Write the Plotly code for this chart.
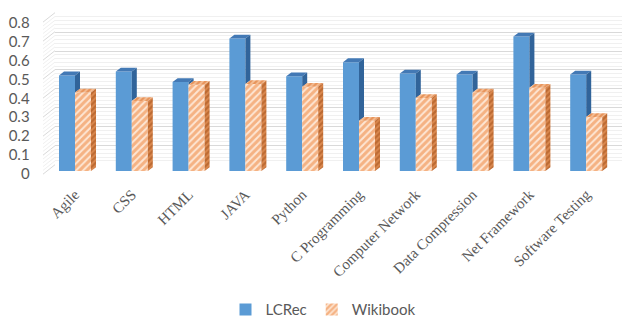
import plotly.graph_objects as go

# ---- data ----
categories = ["Agile", "CSS", "HTML", "JAVA", "Python", "C Programming",
              "Computer Network", "Data Compression", "Net Framework", "Software Testing"]
lcrec = [0.505, 0.525, 0.47, 0.70, 0.50, 0.575, 0.515, 0.51, 0.71, 0.51]
wikibook = [0.415, 0.37, 0.455, 0.46, 0.445, 0.265, 0.385, 0.415, 0.44, 0.285]
y_ticks = [0, 0.1, 0.2, 0.3, 0.4, 0.5, 0.6, 0.7, 0.8]

# ---- canvas geometry (pixels) ----
W, H = 622, 334
def px(x):
    return x / W
def py(y):
    return 1 - y / H

GREY = "#595959"
BLUE, BLUE_TOP, BLUE_SIDE = "#5b9bd5", "#4379b5", "#31649a"
ORANGE = "#ed7d31"

# plane of the bar fronts
bar_x_dom = (46.6, 614.6)
bar_y_dom = (13.3, 173.3)          # 0.8 at top, 0 at bottom
x_range = (-0.5, 9.5)
y_range = (0, 0.8)
px_per_cat = (bar_x_dom[1] - bar_x_dom[0]) / (x_range[1] - x_range[0])
px_per_unit = (bar_y_dom[1] - bar_y_dom[0]) / (y_range[1] - y_range[0])

bw = 16 / px_per_cat               # bar width in category units
ddx = 5 / px_per_cat               # bar depth offset (x)
ddy = 4 / px_per_unit              # bar depth offset (y)

idx = list(range(len(categories)))

fig = go.Figure()

# back wall gridlines sit on the base axis pair (x, y); bars are on (x2, y2)
fig.add_trace(go.Scatter(x=[0], y=[0], mode="markers", marker=dict(opacity=0),
                         hoverinfo="skip", showlegend=False))

# front faces
fig.add_trace(go.Bar(
    x=idx, y=lcrec, width=bw, offset=-bw, name="LCRec",
    xaxis="x2", yaxis="y2",
    marker=dict(color=BLUE, line=dict(width=0)),
))
fig.add_trace(go.Bar(
    x=idx, y=wikibook, width=bw, offset=0, name="Wikibook",
    xaxis="x2", yaxis="y2",
    marker=dict(color="#fde6d4", line=dict(width=0),
                pattern=dict(shape="/", fgcolor=ORANGE, bgcolor="#fde6d4",
                             size=5, solidity=0.6)),
))


def top_faces(vals, off):
    xs, ys = [], []
    for i, v in zip(idx, vals):
        x0 = i + off
        x1 = x0 + bw
        xs += [x0, x0 + ddx, x1 + ddx, x1, x0, None]
        ys += [v, v + ddy, v + ddy, v, v, None]
    return xs, ys


def side_faces(vals, off, lower=None):
    xs, ys = [], []
    for k, (i, v) in enumerate(zip(idx, vals)):
        x1 = i + off + bw
        b = 0 if lower is None else min(lower[k], v)
        xs += [x1, x1 + ddx, x1 + ddx, x1, x1, None]
        ys += [b, b + ddy, v + ddy, v, b, None]
    return xs, ys


def face(xs, ys, color=None, pattern=None):
    kw = dict(x=xs, y=ys, mode="lines", fill="toself", xaxis="x2", yaxis="y2",
              line=dict(width=0, color="rgba(0,0,0,0)"),
              hoverinfo="skip", showlegend=False)
    if pattern:
        kw["fillpattern"] = pattern
        kw["fillcolor"] = pattern["bgcolor"]
    else:
        kw["fillcolor"] = color
    return go.Scatter(**kw)


# LCRec top and the part of its side not hidden behind Wikibook
fig.add_trace(face(*top_faces(lcrec, -bw), color=BLUE_TOP))
fig.add_trace(face(*side_faces(lcrec, -bw, lower=wikibook), color=BLUE_SIDE))
# Wikibook top and side
fig.add_trace(face(*top_faces(wikibook, 0),
                   pattern=dict(shape="/", fgcolor="#d9661c", bgcolor="#f5c199",
                                size=4, solidity=0.55)))
fig.add_trace(face(*side_faces(wikibook, 0),
                   pattern=dict(shape="/", fgcolor="#9c4a14", bgcolor="#dc8a50",
                                size=4, solidity=0.55)))

back_x_dom = (55, 622)
back_y_dom = (6.5, 166.7)

# side wall: lines joining the front edge to the back wall
front_left_x = 43
front_y0 = 176.7
wall_scale = (front_y0 - 16) / 0.8
shapes = []
minor_vals = [round(k * 0.02, 2) for k in range(41)]
for v in minor_vals:
    major = any(abs(v - t) < 1e-9 for t in y_ticks)
    yf = front_y0 - v * wall_scale
    yb = yf - 10
    shapes.append(dict(type="line", xref="paper", yref="paper",
                       x0=px(front_left_x), y0=py(yf), x1=px(back_x_dom[0]), y1=py(yb),
                       line=dict(color="#d9d9d9" if major else "#f0f0f0", width=1),
                       layer="below"))

font_sans = "Lato, 'Open Sans', sans-serif"
font_serif = "'Liberation Serif', 'DejaVu Serif', serif"

fig.update_layout(
    width=W, height=H,
    margin=dict(l=0, r=0, t=0, b=0),
    paper_bgcolor="white", plot_bgcolor="rgba(0,0,0,0)",
    barmode="overlay",
    shapes=shapes,
    showlegend=True,
    legend=dict(orientation="h", x=px(323), xanchor="center", y=py(320), yanchor="middle",
                font=dict(family=font_sans, size=15, color=GREY),
                itemwidth=30, traceorder="normal", bgcolor="rgba(0,0,0,0)"),
    # back wall
    xaxis=dict(domain=[px(back_x_dom[0]), px(back_x_dom[1])], range=[0, 1],
               showgrid=False, zeroline=False, showticklabels=False, ticks=""),
    yaxis=dict(domain=[py(back_y_dom[1]), py(back_y_dom[0])], range=list(y_range),
               dtick=0.1, showgrid=True, gridcolor="#d9d9d9", gridwidth=1,
               minor=dict(dtick=0.02, showgrid=True, gridcolor="#f0f0f0", gridwidth=1),
               zeroline=False, showticklabels=False, ticks=""),
    # bar plane
    xaxis2=dict(domain=[px(bar_x_dom[0]), px(bar_x_dom[1])], range=list(x_range),
                anchor="y2",
                tickmode="array", tickvals=idx, ticktext=categories, tickangle=-45,
                showgrid=False, zeroline=False, showline=False, ticks="",
                ticklabelstandoff=11,
                tickfont=dict(family=font_serif, size=15, color=GREY)),
    yaxis2=dict(domain=[py(bar_y_dom[1]), py(bar_y_dom[0])], range=list(y_range),
                anchor="x2", side="left",
                tickmode="array", tickvals=y_ticks, ticktext=[f"{t:g}" for t in y_ticks],
                showgrid=False, zeroline=False, showline=False, ticks="",
                ticklabelstandoff=16, ticklabelshift=3,
                tickfont=dict(family=font_sans, size=15, color=GREY)),
)

fig.write_html("out.html")
